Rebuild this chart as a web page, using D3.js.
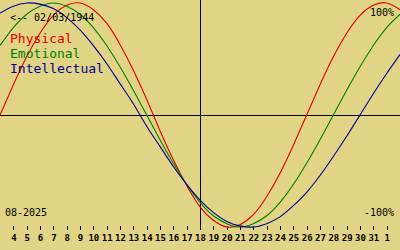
<!DOCTYPE html>
<html>
<head>
<meta charset="utf-8">
<script src="https://cdn.jsdelivr.net/npm/d3@7"></script>
<style>
  body { margin: 0; background: #e1d485; }
  svg { display: block; }
  text { font-family: "DejaVu Sans Mono", monospace; }
</style>
</head>
<body>
<svg width="400" height="250"></svg>
<script>
// days shown: index 0 = 03 Aug 2025 ... 30 = 02 Sep 2025
var dayLabels = ["4","5","6","7","8","9","10","11","12","13","14","15","16","17","18",
                 "19","20","21","22","23","24","25","26","27","28","29","30","31","1"];

// cycle values in percent, one per day index 0..30
var physical = [0,27,52,73,89,98,100,94,82,63,40,14,-14,-40,-63,-82,-94,-100,-98,-89,-73,-52,-27,0,27,52,73,89,98,100,94];
var emotional = [62,78,90,97,100,97,90,78,62,43,22,0,-22,-43,-62,-78,-90,-97,-100,-97,-90,-78,-62,-43,-22,0,22,43,62,78,90];
var intellectual = [91,97,100,99,95,87,76,62,46,28,10,-10,-28,-46,-62,-76,-87,-95,-99,-100,-97,-91,-81,-69,-54,-37,-19,0,19,37,54];

var birthText = "<-- 02/03/1944";
var monthText = "08-2025";

var width = 400, height = 250;

var svg = d3.select("svg");

var x = d3.scaleLinear()
    .domain([0, 30])
    .range([0, width]);

var y = d3.scaleLinear()
    .domain([-100, 100])
    .range([227, 3]);

// axes cross
svg.append("line")
    .attr("x1", 0).attr("x2", width)
    .attr("y1", y(0)).attr("y2", y(0))
    .attr("stroke", "#000").attr("stroke-width", 1)
    .attr("shape-rendering", "crispEdges");

svg.append("line")
    .attr("x1", x(15)).attr("x2", x(15))
    .attr("y1", 0).attr("y2", 230)
    .attr("stroke", "#000").attr("stroke-width", 1)
    .attr("shape-rendering", "crispEdges");

// day ticks along the bottom
var xAxis = d3.axisBottom(x)
    .tickValues(d3.range(1, 30))
    .tickSize(4)
    .tickPadding(5)
    .tickFormat(function (d) { return dayLabels[d - 1]; });

var ax = svg.append("g")
    .attr("transform", "translate(0,226)")
    .call(xAxis);
ax.select(".domain").remove();
ax.selectAll(".tick line").attr("stroke", "#000").attr("shape-rendering", "crispEdges");
ax.selectAll(".tick text")
    .attr("fill", "#000")
    .style("font-family", "'DejaVu Sans Mono', monospace")
    .style("font-size", "9px")
    .style("font-weight", "bold");

var line = d3.line()
    .x(function (d, i) { return x(i); })
    .y(function (d) { return y(d); })
    .curve(d3.curveNatural);

var series = [
    { name: "Physical", values: physical, color: "#e00000" },
    { name: "Emotional", values: emotional, color: "#008000" },
    { name: "Intellectual", values: intellectual, color: "#000098" }
];

series.forEach(function (s) {
    svg.append("path")
        .attr("d", line(s.values))
        .attr("fill", "none")
        .attr("stroke", s.color)
        .attr("stroke-width", 1.1);
});

// labels
svg.append("text")
    .attr("x", 10).attr("y", 21)
    .attr("font-size", 10)
    .attr("fill", "#000")
    .text(birthText);

series.forEach(function (s, i) {
    svg.append("text")
        .attr("x", 10).attr("y", 43 + i * 15)
        .attr("font-size", 13)
        .attr("fill", s.color)
        .text(s.name);
});

svg.append("text")
    .attr("x", 394).attr("y", 16)
    .attr("text-anchor", "end")
    .attr("font-size", 10)
    .attr("fill", "#000")
    .text("100%");

svg.append("text")
    .attr("x", 394).attr("y", 216)
    .attr("text-anchor", "end")
    .attr("font-size", 10)
    .attr("fill", "#000")
    .text("-100%");

svg.append("text")
    .attr("x", 5).attr("y", 216)
    .attr("font-size", 10)
    .attr("fill", "#000")
    .text(monthText);
</script>
</body>
</html>
